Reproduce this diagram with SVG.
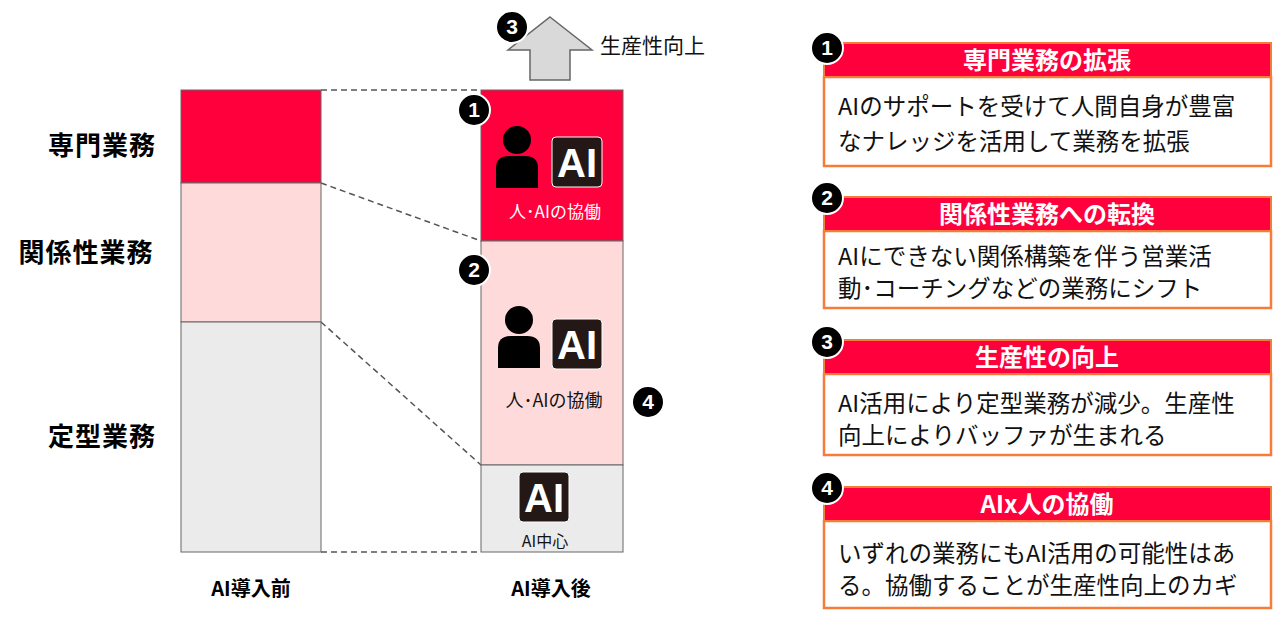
<svg xmlns="http://www.w3.org/2000/svg" width="1280" height="617" viewBox="0 0 1280 617">
<style>
text{font-family:"Noto Sans CJK JP","Liberation Sans",sans-serif}
.lbl{font-size:26px;font-weight:bold;fill:#000;letter-spacing:1px}
.bot{font-size:20px;font-weight:bold;fill:#000}
.dash{stroke:#555;stroke-width:1.5;stroke-dasharray:6 4;fill:none}
.col{stroke:#666;stroke-width:1}
.hd{fill:#ff003c;stroke:#f57c3a;stroke-width:2}
.bd{fill:#fff;stroke:#f57c3a;stroke-width:2.5}
.ht{font-size:24px;font-weight:bold;fill:#fff}
.bt{font-size:23.5px;fill:#111}
.num{fill:#000;stroke:#fff;stroke-width:2}
.nt{font-family:"Liberation Sans",sans-serif;font-size:21px;font-weight:bold;fill:#fff}
.ai{fill:#231815;stroke:#fff;stroke-width:1}
.ait{font-family:"Liberation Sans",sans-serif;font-size:40px;font-weight:bold;fill:#fff}
</style>
<defs>
<g id="person"><circle cx="21" cy="14" r="14"/><path d="M0 62 V42 Q0 30 13 30 H29 Q42 30 42 42 V62 Z"/></g>
<g id="aib"><rect class="ai" x="0" y="0" width="50" height="50" rx="4"/><text class="ait" x="25" y="40" text-anchor="middle" textLength="40" lengthAdjust="spacingAndGlyphs">AI</text></g>
<g id="n"><circle class="num" r="16"/></g>
</defs>
<g id="connectors">
<line class="dash" x1="321" y1="90" x2="481" y2="90"/>
<line class="dash" x1="321" y1="183" x2="481" y2="241"/>
<line class="dash" x1="321" y1="322" x2="481" y2="465"/>
<line class="dash" x1="321" y1="552" x2="481" y2="552"/>
</g>
<g id="before">
<rect class="col" x="181" y="90" width="140" height="93" fill="#ff003c"/>
<rect class="col" x="181" y="183" width="140" height="139" fill="#ffdada"/>
<rect class="col" x="181" y="322" width="140" height="230" fill="#ebebeb"/>
<text class="lbl" x="102" y="155" text-anchor="middle">専門業務</text>
<text class="lbl" x="86" y="262" text-anchor="middle">関係性業務</text>
<text class="lbl" x="102" y="446" text-anchor="middle">定型業務</text>
<text class="bot" x="251" y="596" text-anchor="middle">AI導入前</text>
</g>
<g id="after">
<rect class="col" x="481" y="90" width="142" height="151" fill="#ff003c"/>
<rect class="col" x="481" y="241" width="142" height="224" fill="#ffdada"/>
<rect class="col" x="481" y="465" width="142" height="87" fill="#ebebeb"/>
<use href="#person" x="496" y="126"/>
<use href="#aib" x="552" y="137"/>
<text x="555" y="218" text-anchor="middle" font-size="17" fill="#fff">人･AIの協働</text>
<use href="#person" x="498" y="306"/>
<use href="#aib" x="552" y="319"/>
<text x="554" y="407" text-anchor="middle" font-size="18" fill="#111">人･AIの協働</text>
<use href="#aib" x="519" y="472"/>
<text x="545" y="547" text-anchor="middle" font-size="16" fill="#111">AI中心</text>
<text class="bot" x="551" y="596" text-anchor="middle">AI導入後</text>
</g>
<g id="arrow">
<polygon points="550,17 592,50 570,50 570,80 530,80 530,50 508,50" fill="#d9d9d9" stroke="#666" stroke-width="1.5"/>
<text x="600" y="53" font-size="21" fill="#111">生産性向上</text>
</g>
<g id="nums">
<use href="#n" x="512" y="27"/><text class="nt" x="512" y="34" text-anchor="middle">3</text>
<use href="#n" x="474" y="110"/><text class="nt" x="474" y="117" text-anchor="middle">1</text>
<use href="#n" x="474" y="270"/><text class="nt" x="474" y="277" text-anchor="middle">2</text>
<use href="#n" x="648" y="402"/><text class="nt" x="648" y="409" text-anchor="middle">4</text>
</g>
<g id="box1">
<rect class="bd" x="824" y="77" width="447" height="89"/>
<rect class="hd" x="824" y="43" width="447" height="34"/>
<text class="ht" x="1047" y="69" text-anchor="middle">専門業務の拡張</text>
<text class="bt" x="838" y="115">AIのサポートを受けて人間自身が豊富</text>
<text class="bt" x="838" y="150">なナレッジを活用して業務を拡張</text>
<use href="#n" x="827" y="48"/><text class="nt" x="827" y="55" text-anchor="middle">1</text>
</g>
<g id="box2">
<rect class="bd" x="824" y="231" width="447" height="77"/>
<rect class="hd" x="824" y="197" width="447" height="34"/>
<text class="ht" x="1047" y="223" text-anchor="middle">関係性業務への転換</text>
<text class="bt" x="838" y="265">AIにできない関係構築を伴う営業活</text>
<text class="bt" x="838" y="297">動･コーチングなどの業務にシフト</text>
<use href="#n" x="827" y="198"/><text class="nt" x="827" y="205" text-anchor="middle">2</text>
</g>
<g id="box3">
<rect class="bd" x="824" y="374" width="447" height="81"/>
<rect class="hd" x="824" y="340" width="447" height="34"/>
<text class="ht" x="1047" y="366" text-anchor="middle">生産性の向上</text>
<text class="bt" x="838" y="412">AI活用により定型業務が減少。生産性</text>
<text class="bt" x="838" y="444">向上によりバッファが生まれる</text>
<use href="#n" x="827" y="342"/><text class="nt" x="827" y="349" text-anchor="middle">3</text>
</g>
<g id="box4">
<rect class="bd" x="824" y="521" width="447" height="87"/>
<rect class="hd" x="824" y="487" width="447" height="34"/>
<text class="ht" x="1047" y="513" text-anchor="middle">AIx人の協働</text>
<text class="bt" x="838" y="562">いずれの業務にもAI活用の可能性はあ</text>
<text class="bt" x="838" y="594">る。協働することが生産性向上のカギ</text>
<use href="#n" x="827" y="488"/><text class="nt" x="827" y="495" text-anchor="middle">4</text>
</g>
</svg>
